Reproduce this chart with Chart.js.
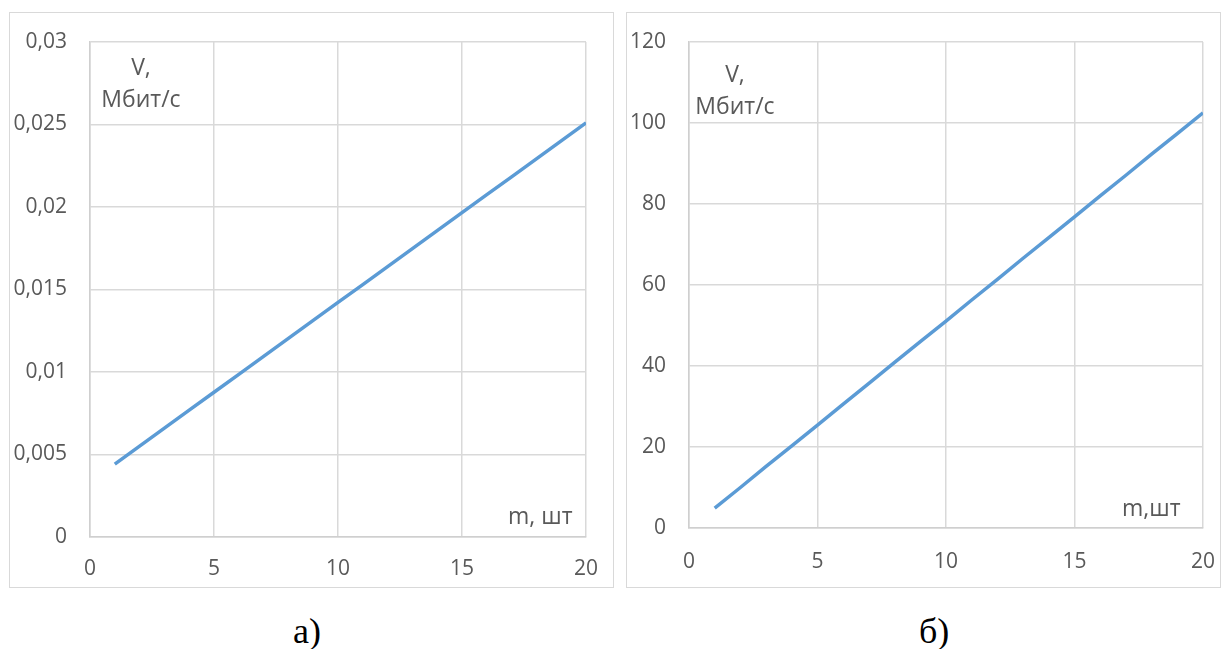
<!DOCTYPE html>
<html lang="ru">
<head>
    <meta charset="UTF-8">
    <title>V(m)</title>
    <script src="https://cdn.jsdelivr.net/npm/chart.js@4.4.0/dist/chart.umd.min.js"></script>
    <style>
        body {
            margin: 0;
            background: #ffffff;
            width: 1221px;
            height: 649px;
            position: relative;
            overflow: hidden;
            font-family: "Open Sans", sans-serif;
        }
        .panel {
            position: absolute;
            top: 12px;
            height: 576px;
            border: 1.5px solid #d9d9d9;
            box-sizing: border-box;
        }
        .panel canvas {
            position: absolute;
            left: 0;
            top: 0;
        }
        .note {
            position: absolute;
            color: #595959;
            font-size: 23px;
            line-height: 32px;
            text-align: center;
            white-space: nowrap;
        }
        .caption {
            position: absolute;
            top: 613px;
            font-family: "Liberation Serif", serif;
            font-size: 36px;
            line-height: 36px;
            color: #000;
        }
    </style>
</head>
<body>
    <div class="panel" id="panelA" style="left:9px;width:605px;">
        <canvas id="chartA" width="602" height="573"></canvas>
    </div>
    <div class="panel" id="panelB" style="left:626px;width:595px;">
        <canvas id="chartB" width="592" height="573"></canvas>
    </div>

    <div class="note" style="left:91px;top:50px;width:100px;">V,<br>Мбит/с</div>
    <div class="note" style="left:508px;top:499px;">m, шт</div>
    <div class="note" style="left:685px;top:57px;width:100px;">V,<br>Мбит/с</div>
    <div class="note" style="left:1122px;top:491px;">m,шт</div>

    <div class="caption" style="left:293px;">а)</div>
    <div class="caption" style="left:919px;">б)</div>

    <script>
        // number of elements m, pcs
        var mValues = [1, 2, 3, 4, 5, 6, 7, 8, 9, 10, 11, 12, 13, 14, 15, 16, 17, 18, 19, 20];

        // chart а) V, Mbit/s
        var speedA = [0.00442, 0.00551, 0.00660, 0.00769, 0.00877, 0.00986, 0.01095, 0.01204, 0.01313, 0.01422,
                      0.01530, 0.01639, 0.01748, 0.01857, 0.01966, 0.02075, 0.02183, 0.02292, 0.02401, 0.02510];

        // chart б) V, Mbit/s
        var speedB = [4.9, 10.0, 15.2, 20.3, 25.4, 30.6, 35.7, 40.9, 46.0, 51.1,
                      56.3, 61.4, 66.6, 71.7, 76.8, 82.0, 87.1, 92.3, 97.4, 102.5];

        var xTicks = [0, 5, 10, 15, 20];
        var yTicksA = [0, 0.005, 0.01, 0.015, 0.02, 0.025, 0.03];
        var yTicksB = [0, 20, 40, 60, 80, 100, 120];

        var textColor = '#595959';
        var gridColor = '#d9d9d9';

        function points(ys) {
            return mValues.map(function (m, i) { return { x: m, y: ys[i] }; });
        }

        function makeChart(id, ys, yTicks, opts) {
            var ctx = document.getElementById(id).getContext('2d');
            return new Chart(ctx, {
                type: 'scatter',
                data: {
                    datasets: [{
                        data: points(ys),
                        showLine: true,
                        borderColor: '#5b9bd5',
                        borderWidth: 3.5,
                        pointRadius: 0,
                        fill: false
                    }]
                },
                options: {
                    responsive: false,
                    animation: false,
                    devicePixelRatio: 1,
                    layout: {
                        padding: { left: 0, right: opts.padRight, top: 29, bottom: 0 }
                    },
                    plugins: {
                        legend: { display: false },
                        tooltip: { enabled: false }
                    },
                    scales: {
                        x: {
                            type: 'linear',
                            min: xTicks[0],
                            max: xTicks[xTicks.length - 1],
                            afterBuildTicks: function (s) {
                                s.ticks = xTicks.map(function (v) { return { value: v }; });
                            },
                            afterFit: function (s) {
                                s.height = opts.xHeight;
                                s.paddingLeft = 0;
                                s.paddingRight = 0;
                            },
                            grid: { color: gridColor, lineWidth: 1.5, drawTicks: false },
                            border: { color: '#cfcfcf', width: 1.5 },
                            ticks: {
                                color: textColor,
                                padding: opts.xPad,
                                maxRotation: 0,
                                font: { family: 'Open Sans', size: 21 }
                            }
                        },
                        y: {
                            type: 'linear',
                            min: yTicks[0],
                            max: yTicks[yTicks.length - 1],
                            afterBuildTicks: function (s) {
                                s.ticks = yTicks.map(function (v) { return { value: v }; });
                            },
                            afterFit: function (s) {
                                s.width = opts.yWidth;
                                s.paddingTop = 0;
                                s.paddingBottom = 0;
                            },
                            grid: { color: gridColor, lineWidth: 1.5, drawTicks: false },
                            border: { color: '#cfcfcf', width: 1.5 },
                            ticks: {
                                color: textColor,
                                padding: 23,
                                font: { family: 'Open Sans', size: 21 },
                                callback: function (v) {
                                    return String(+v.toFixed(4)).replace('.', ',');
                                }
                            }
                        }
                    }
                }
            });
        }

        makeChart('chartA', speedA, yTicksA, { padRight: 26, yWidth: 80, xHeight: 49, xPad: 19 });
        makeChart('chartB', speedB, yTicksB, { padRight: 16, yWidth: 62, xHeight: 58, xPad: 21 });
    </script>
</body>
</html>
